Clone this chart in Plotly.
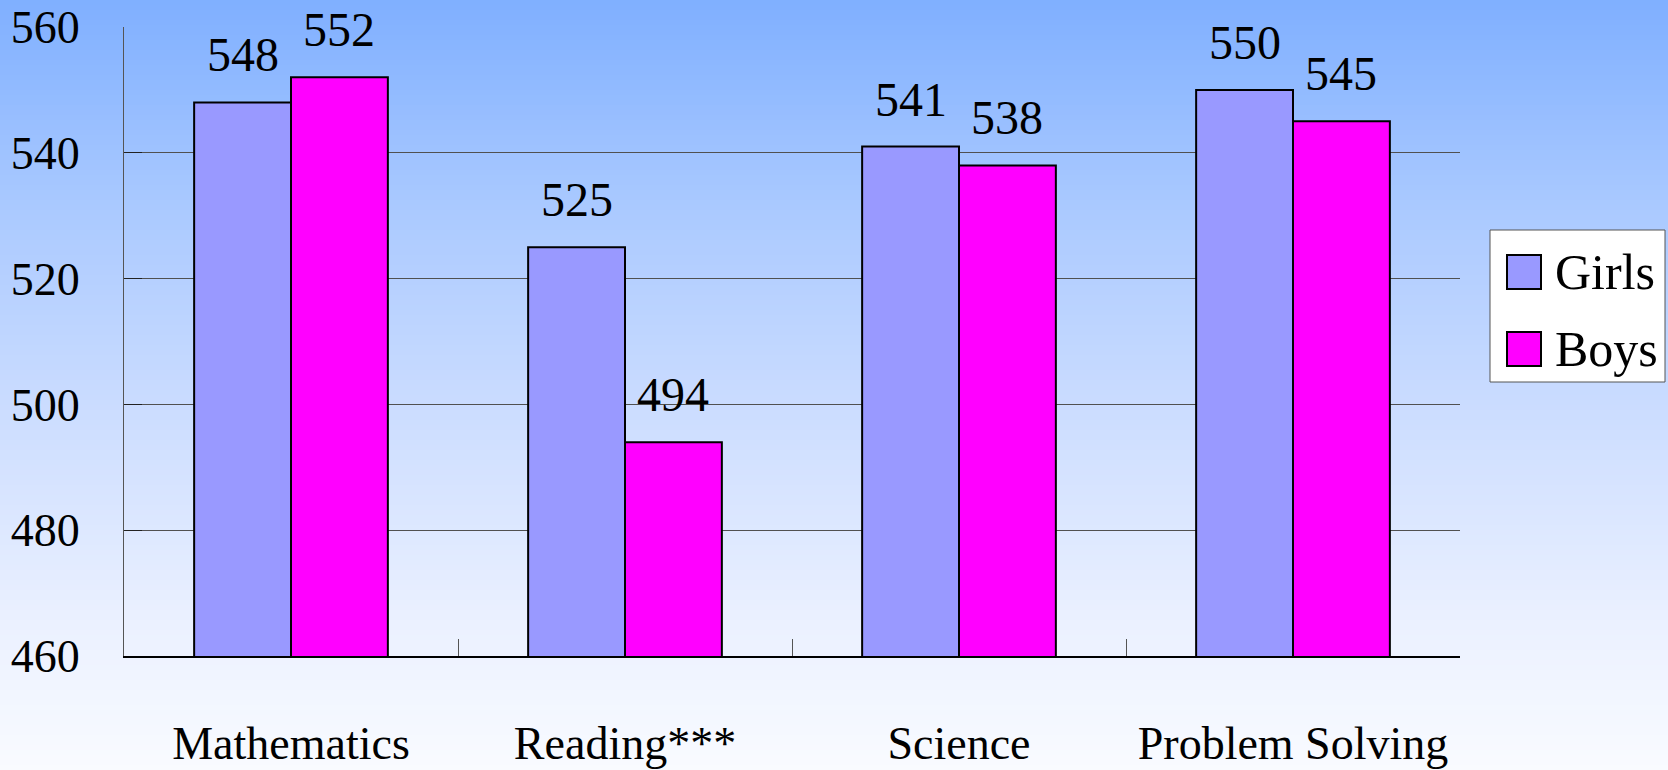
import plotly.graph_objects as go

# ---- data ----
categories = ["Mathematics", "Reading***", "Science", "Problem Solving"]
series_names = ["Girls", "Boys"]
girls = [548, 525, 541, 550]
boys = [552, 494, 538, 545]
y_ticks = [460, 480, 500, 520, 540, 560]

COLORS = ["#9999FF", "#FF00FF"]
FONT = "Liberation Serif"
W, H = 1668, 770
ML, MR, MT, MB = 124, 208, 27, 114
PW, PH = W - ML - MR, H - MT - MB


def px_x(p):
    return (p - ML) / PW


def px_y(p):
    return (H - MB - p) / PH


fig = go.Figure()
for name, vals, col in zip(series_names, (girls, boys), COLORS):
    fig.add_trace(go.Bar(name=name, x=categories, y=vals, showlegend=False,
                         marker=dict(color=col, line=dict(color="black", width=2))))

# value labels above bars
annotations = []
for vals, shift in ((girls, -48), (boys, 48)):
    for c, v in zip(categories, vals):
        annotations.append(dict(x=c, y=v, xref="x", yref="y", text=str(v),
                                showarrow=False, xshift=shift, yshift=19,
                                yanchor="bottom",
                                font=dict(family=FONT, size=48, color="black")))

# background gradient (pixel row -> rgb)
stops = [(0, (128, 176, 255)), (15, (130, 177, 255)), (195, (168, 200, 255)),
         (415, (204, 221, 255)), (615, (234, 240, 255)), (770, (249, 251, 255))]


def col_at(p):
    for (p0, c0), (p1, c1) in zip(stops[:-1], stops[1:]):
        if p0 <= p <= p1:
            t = (p - p0) / (p1 - p0) if p1 > p0 else 0
            return "rgb(%d,%d,%d)" % tuple(round(a + (b - a) * t) for a, b in zip(c0, c1))
    return "rgb(%d,%d,%d)" % stops[-1][1]


shapes = []
step = 5
for p in range(0, H, step):
    shapes.append(dict(type="rect", xref="paper", yref="paper", layer="below",
                       x0=px_x(-2), x1=px_x(W + 2), y0=px_y(p + step + 1), y1=px_y(p),
                       fillcolor=col_at(p + step / 2), line=dict(width=0)))

# custom legend box
shapes.append(dict(type="rect", xref="paper", yref="paper", layer="above",
                   x0=px_x(1490), x1=px_x(1665), y0=px_y(382), y1=px_y(230),
                   fillcolor="white", line=dict(color="#555555", width=1)))
for i, (name, col) in enumerate(zip(series_names, COLORS)):
    top = 255 + i * 77
    shapes.append(dict(type="rect", xref="paper", yref="paper", layer="above",
                       x0=px_x(1507), x1=px_x(1541), y0=px_y(top + 34), y1=px_y(top),
                       fillcolor=col, line=dict(color="black", width=2)))
    annotations.append(dict(x=px_x(1553), y=px_y(top + 17), xref="paper", yref="paper",
                            text=name, showarrow=False, xanchor="left", yanchor="middle",
                            font=dict(family=FONT, size=50, color="black")))

fig.update_layout(
    width=W, height=H,
    margin=dict(l=ML, r=MR, t=MT, b=MB, autoexpand=False),
    paper_bgcolor="rgb(200,219,255)",
    plot_bgcolor="rgba(0,0,0,0)",
    barmode="group", bargap=0.42, bargroupgap=0,
    font=dict(family=FONT, size=46, color="black"),
    shapes=shapes,
    annotations=annotations,
    showlegend=False,
    xaxis=dict(showline=True, linecolor="black", linewidth=2,
               ticks="inside", tickson="boundaries", ticklen=17,
               tickcolor="#555555", tickwidth=1,
               ticklabelstandoff=46, automargin=False,
               tickfont=dict(family=FONT, size=46, color="black"),
               showgrid=False, fixedrange=True),
    yaxis=dict(range=[460, 560], tickvals=y_ticks,
               showline=True, linecolor="#555555", linewidth=1,
               ticks="inside", ticklen=18, tickcolor="#222222",
               showgrid=True, gridcolor="#505050", gridwidth=1,
               zeroline=False, ticklabelstandoff=34, automargin=False,
               tickfont=dict(family=FONT, size=46, color="black")),
)

fig.write_html("out.html")
